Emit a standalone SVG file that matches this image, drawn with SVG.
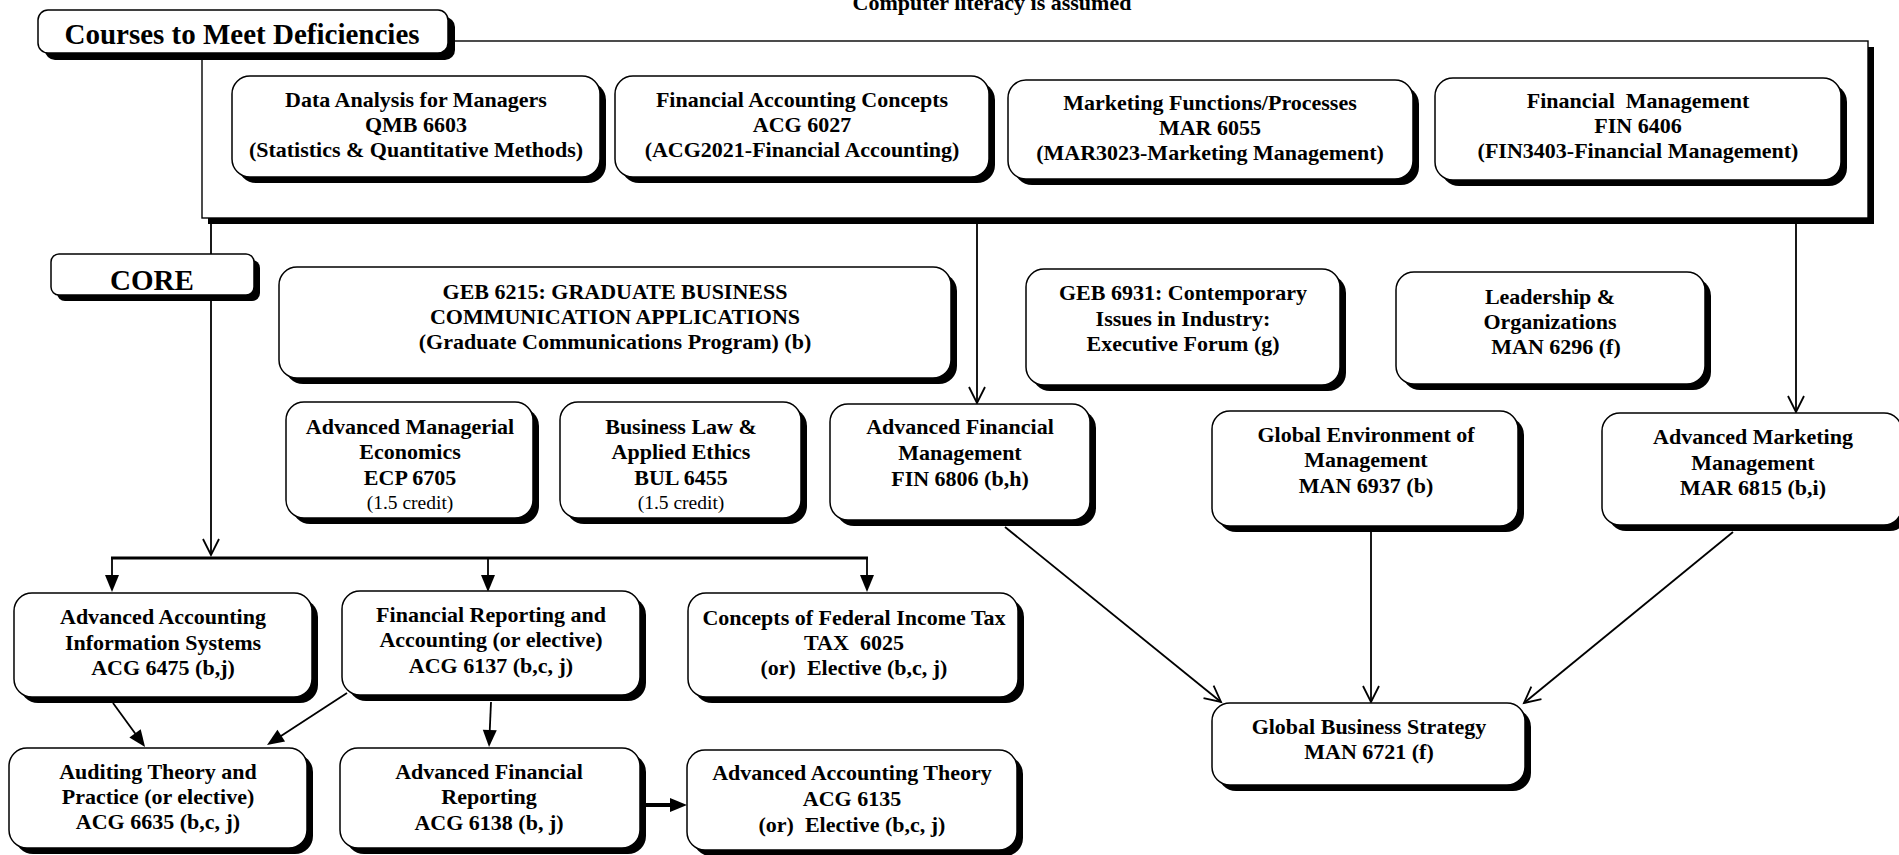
<svg xmlns="http://www.w3.org/2000/svg" width="1899" height="855" viewBox="0 0 1899 855">
<defs>
<style>
text{font-family:"Liberation Serif","Times New Roman",serif;font-weight:bold;font-size:22px;text-anchor:middle;fill:#000}
.sm{font-weight:normal;font-size:19.5px}
.big{font-size:29px}
.box{fill:#fff;stroke:#000;stroke-width:1.5}
.sh{fill:#000}
.ln{fill:none;stroke:#000;stroke-width:1.8}
.thick{stroke-width:3}
.thick4{stroke-width:4}
</style>
<marker id="open" viewBox="-20 -12 24 24" refX="0" refY="0" markerWidth="24" markerHeight="24" markerUnits="userSpaceOnUse" orient="auto">
<path d="M-16,-8 L0,0 L-16,8" fill="none" stroke="#000" stroke-width="1.8"/>
</marker>
<marker id="solid" viewBox="-6 -10 22 20" refX="0" refY="0" markerWidth="22" markerHeight="20" markerUnits="userSpaceOnUse" orient="auto">
<path d="M-4,-7 L13,0 L-4,7 Z" fill="#000"/>
</marker>
</defs>
<rect width="1899" height="855" fill="#fff"/>
<text x="992" y="10">Computer literacy is assumed</text>

<g id="frame">
<rect class="sh" x="208" y="47" width="1666" height="177"/>
<rect x="202" y="41" width="1666" height="177" fill="#fff" stroke="#000" stroke-width="1.4"/>
</g>

<g id="connectors">
<line class="ln" x1="211" y1="224" x2="211" y2="555" marker-end="url(#open)"/>
<line class="ln thick" x1="111" y1="558" x2="868" y2="558"/>
<line class="ln" x1="112" y1="558" x2="112" y2="579" marker-end="url(#solid)"/>
<line class="ln" x1="488" y1="558" x2="488" y2="579" marker-end="url(#solid)"/>
<line class="ln" x1="867" y1="558" x2="867" y2="579" marker-end="url(#solid)"/>
<line class="ln" x1="977" y1="224" x2="977" y2="403" marker-end="url(#open)"/>
<line class="ln" x1="1796" y1="224" x2="1796" y2="412" marker-end="url(#open)"/>
<line class="ln" x1="1005" y1="527" x2="1221" y2="702" marker-end="url(#open)"/>
<line class="ln" x1="1371" y1="532" x2="1371" y2="702" marker-end="url(#open)"/>
<line class="ln" x1="1733" y1="532" x2="1524" y2="703" marker-end="url(#open)"/>
<line class="ln" x1="113" y1="703" x2="137.4" y2="736.5" marker-end="url(#solid)"/>
<line class="ln" x1="347" y1="693" x2="277.9" y2="737.9" marker-end="url(#solid)"/>
<line class="ln" x1="491" y1="702" x2="489.6" y2="734" marker-end="url(#solid)"/>
<line class="ln thick4" x1="646" y1="805" x2="674" y2="805" marker-end="url(#solid)"/>
</g>

<g id="n-header">
<rect class="sh" x="45" y="17" width="410" height="43" rx="10"/>
<rect class="box" x="38" y="10" width="410" height="43" rx="10"/>
<text class="big" x="242" y="44">Courses to Meet Deficiencies</text>
</g>

<g id="n-qmb6603">
<rect class="sh" x="238" y="82" width="368" height="101" rx="18"/>
<rect class="box" x="232" y="76" width="368" height="101" rx="18"/>
<text x="416"><tspan x="416" y="107">Data Analysis for Managers</tspan><tspan x="416" y="132">QMB 6603</tspan><tspan x="416" y="157">(Statistics &amp; Quantitative Methods)</tspan></text>
</g>

<g id="n-acg6027">
<rect class="sh" x="621" y="82" width="374" height="101" rx="18"/>
<rect class="box" x="615" y="76" width="374" height="101" rx="18"/>
<text x="802"><tspan x="802" y="107">Financial Accounting Concepts</tspan><tspan x="802" y="132">ACG 6027</tspan><tspan x="802" y="157">(ACG2021-Financial Accounting)</tspan></text>
</g>

<g id="n-mar6055">
<rect class="sh" x="1014" y="86" width="405" height="99" rx="18"/>
<rect class="box" x="1008" y="80" width="405" height="99" rx="18"/>
<text x="1210"><tspan x="1210" y="110">Marketing Functions/Processes</tspan><tspan x="1210" y="135">MAR 6055</tspan><tspan x="1210" y="160">(MAR3023-Marketing Management)</tspan></text>
</g>

<g id="n-fin6406">
<rect class="sh" x="1441" y="84" width="406" height="102" rx="18"/>
<rect class="box" x="1435" y="78" width="406" height="102" rx="18"/>
<text x="1638" xml:space="preserve"><tspan x="1638" y="108">Financial  Management</tspan><tspan x="1638" y="133">FIN 6406</tspan><tspan x="1638" y="158">(FIN3403-Financial Management)</tspan></text>
</g>

<g id="n-core">
<rect class="sh" x="57" y="260" width="203" height="41" rx="8"/>
<rect class="box" x="51" y="254" width="203" height="41" rx="8"/>
<text class="big" x="152" y="290">CORE</text>
</g>

<g id="n-geb6215">
<rect class="sh" x="285" y="273" width="672" height="111" rx="18"/>
<rect class="box" x="279" y="267" width="672" height="111" rx="18"/>
<text x="615"><tspan x="615" y="299">GEB 6215: GRADUATE BUSINESS</tspan><tspan x="615" y="324">COMMUNICATION APPLICATIONS</tspan><tspan x="615" y="349">(Graduate Communications Program) (b)</tspan></text>
</g>

<g id="n-ecp6705">
<rect class="sh" x="292" y="408" width="247" height="116" rx="18"/>
<rect class="box" x="286" y="402" width="247" height="116" rx="18"/>
<text x="410"><tspan x="410" y="434">Advanced Managerial</tspan><tspan x="410" y="459">Economics</tspan><tspan x="410" y="485">ECP 6705</tspan></text>
<text class="sm" x="410" y="509">(1.5 credit)</text>
</g>

<g id="n-bul6455">
<rect class="sh" x="566" y="408" width="241" height="116" rx="18"/>
<rect class="box" x="560" y="402" width="241" height="116" rx="18"/>
<text x="681"><tspan x="681" y="434">Business Law &amp;</tspan><tspan x="681" y="459">Applied Ethics</tspan><tspan x="681" y="485">BUL 6455</tspan></text>
<text class="sm" x="681" y="509">(1.5 credit)</text>
</g>

<g id="n-fin6806">
<rect class="sh" x="836" y="410" width="260" height="116" rx="18"/>
<rect class="box" x="830" y="404" width="260" height="116" rx="18"/>
<text x="960"><tspan x="960" y="434">Advanced Financial</tspan><tspan x="960" y="460">Management</tspan><tspan x="960" y="486">FIN 6806 (b,h)</tspan></text>
</g>

<g id="n-geb6931">
<rect class="sh" x="1032" y="275" width="314" height="116" rx="18"/>
<rect class="box" x="1026" y="269" width="314" height="116" rx="18"/>
<text x="1183"><tspan x="1183" y="300">GEB 6931: Contemporary</tspan><tspan x="1183" y="326">Issues in Industry:</tspan><tspan x="1183" y="351">Executive Forum (g)</tspan></text>
</g>

<g id="n-man6296">
<rect class="sh" x="1402" y="278" width="309" height="112" rx="18"/>
<rect class="box" x="1396" y="272" width="309" height="112" rx="18"/>
<text x="1550"><tspan x="1550" y="304">Leadership &amp;</tspan><tspan x="1550" y="329">Organizations</tspan><tspan x="1556" y="354">MAN 6296 (f)</tspan></text>
</g>

<g id="n-man6937">
<rect class="sh" x="1218" y="417" width="306" height="115" rx="18"/>
<rect class="box" x="1212" y="411" width="306" height="115" rx="18"/>
<text x="1366"><tspan x="1366" y="442">Global Environment of</tspan><tspan x="1366" y="467">Management</tspan><tspan x="1366" y="493">MAN 6937 (b)</tspan></text>
</g>

<g id="n-mar6815">
<rect class="sh" x="1608" y="419" width="300" height="112" rx="18"/>
<rect class="box" x="1602" y="413" width="300" height="112" rx="18"/>
<text x="1753"><tspan x="1753" y="444">Advanced Marketing</tspan><tspan x="1753" y="470">Management</tspan><tspan x="1753" y="495">MAR 6815 (b,i)</tspan></text>
</g>

<g id="n-man6721">
<rect class="sh" x="1218" y="709" width="313" height="82" rx="18"/>
<rect class="box" x="1212" y="703" width="313" height="82" rx="18"/>
<text x="1369"><tspan x="1369" y="734">Global Business Strategy</tspan><tspan x="1369" y="759">MAN 6721 (f)</tspan></text>
</g>

<g id="n-acg6475">
<rect class="sh" x="20" y="599" width="298" height="104" rx="18"/>
<rect class="box" x="14" y="593" width="298" height="104" rx="18"/>
<text x="163"><tspan x="163" y="624">Advanced Accounting</tspan><tspan x="163" y="650">Information Systems</tspan><tspan x="163" y="675">ACG 6475 (b,j)</tspan></text>
</g>

<g id="n-acg6137">
<rect class="sh" x="348" y="597" width="298" height="104" rx="18"/>
<rect class="box" x="342" y="591" width="298" height="104" rx="18"/>
<text x="491"><tspan x="491" y="622">Financial Reporting and</tspan><tspan x="491" y="647">Accounting (or elective)</tspan><tspan x="491" y="673">ACG 6137 (b,c, j)</tspan></text>
</g>

<g id="n-tax6025">
<rect class="sh" x="694" y="599" width="330" height="104" rx="18"/>
<rect class="box" x="688" y="593" width="330" height="104" rx="18"/>
<text x="854" xml:space="preserve"><tspan x="854" y="625">Concepts of Federal Income Tax</tspan><tspan x="854" y="650">TAX  6025</tspan><tspan x="854" y="675">(or)  Elective (b,c, j)</tspan></text>
</g>

<g id="n-acg6635">
<rect class="sh" x="15" y="754" width="298" height="100" rx="18"/>
<rect class="box" x="9" y="748" width="298" height="100" rx="18"/>
<text x="158"><tspan x="158" y="779">Auditing Theory and</tspan><tspan x="158" y="804">Practice (or elective)</tspan><tspan x="158" y="829">ACG 6635 (b,c, j)</tspan></text>
</g>

<g id="n-acg6138">
<rect class="sh" x="346" y="754" width="300" height="100" rx="18"/>
<rect class="box" x="340" y="748" width="300" height="100" rx="18"/>
<text x="489"><tspan x="489" y="779">Advanced Financial</tspan><tspan x="489" y="804">Reporting</tspan><tspan x="489" y="830">ACG 6138 (b, j)</tspan></text>
</g>

<g id="n-acg6135">
<rect class="sh" x="693" y="756" width="330" height="100" rx="18"/>
<rect class="box" x="687" y="750" width="330" height="100" rx="18"/>
<text x="852" xml:space="preserve"><tspan x="852" y="780">Advanced Accounting Theory</tspan><tspan x="852" y="806">ACG 6135</tspan><tspan x="852" y="832">(or)  Elective (b,c, j)</tspan></text>
</g>
</svg>
